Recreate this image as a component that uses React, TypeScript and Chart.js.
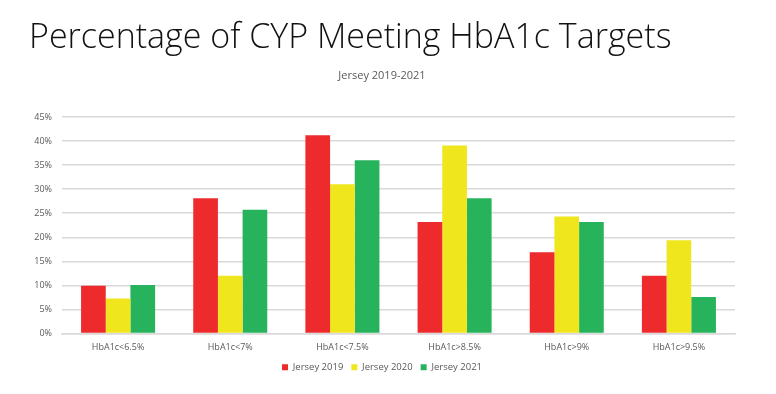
import React, { useEffect, useRef } from "react";
import { Chart, registerables } from "chart.js";

Chart.register(...registerables);

const categories = ["HbA1c<6.5%", "HbA1c<7%", "HbA1c<7.5%", "HbA1c>8.5%", "HbA1c>9%", "HbA1c>9.5%"];
const seriesNames = ["Jersey 2019", "Jersey 2020", "Jersey 2021"];
const jersey2019 = [9.9, 28.1, 41.2, 23.2, 16.9, 12.0];
const jersey2020 = [7.3, 12.0, 31.0, 39.1, 24.3, 19.4];
const jersey2021 = [10.1, 25.7, 36.0, 28.1, 23.2, 7.6];
const seriesColors = ["#ED2B2C", "#EFE61D", "#27B25C"];
const yTicksMax = 45;
const yTickStep = 5;

export default function App() {
  const ref = useRef<HTMLCanvasElement | null>(null);
  useEffect(() => {
    if (!ref.current) return;
    const values = [jersey2019, jersey2020, jersey2021];
    const chart = new Chart(ref.current, {
      type: "bar",
      data: {
        labels: categories,
        datasets: seriesNames.map((name, i) => ({
          label: name,
          data: values[i],
          backgroundColor: seriesColors[i],
          borderWidth: 0,
          barPercentage: 1,
          categoryPercentage: 0.66,
        })),
      },
      options: {
        animation: false,
        responsive: true,
        maintainAspectRatio: false,
        layout: { padding: { left: 21, right: 33, top: 0, bottom: 4 } },
        plugins: {
          title: {
            display: true,
            text: "Percentage of CYP Meeting HbA1c Targets",
            align: "start",
            color: "#111111",
            font: { family: "Open Sans", size: 34, weight: "300" },
            padding: { top: 10, bottom: 4 },
          },
          subtitle: {
            display: true,
            text: "Jersey 2019-2021",
            color: "#595959",
            font: { family: "Open Sans", size: 11 },
            padding: { top: 6, bottom: 35 },
          },
          legend: {
            position: "bottom",
            labels: {
              boxWidth: 6,
              boxHeight: 6,
              padding: 8,
              color: "#595959",
              font: { family: "Open Sans", size: 9.5 },
            },
          },
          tooltip: { enabled: false },
        },
        scales: {
          x: {
            grid: { display: false, drawTicks: false },
            border: { color: "#D9D9D9", width: 1.5 },
            ticks: { color: "#595959", font: { family: "Open Sans", size: 9 }, padding: 9 },
            afterFit: (scale: any) => {
              scale.height = 21;
            },
          },
          y: {
            min: 0,
            max: yTicksMax,
            border: { display: false },
            grid: { color: "#D9D9D9", lineWidth: 1.5, drawTicks: false },
            ticks: {
              stepSize: yTickStep,
              color: "#595959",
              font: { family: "Open Sans", size: 9 },
              padding: 10,
              callback: (v: any) => v + "%",
            },
            afterFit: (scale: any) => {
              scale.width = 33;
            },
          },
        },
      },
    });
    return () => chart.destroy();
  }, []);
  return (
    <div style={{ width: 760, height: 378, position: "relative" }}>
      <canvas ref={ref} />
    </div>
  );
}
